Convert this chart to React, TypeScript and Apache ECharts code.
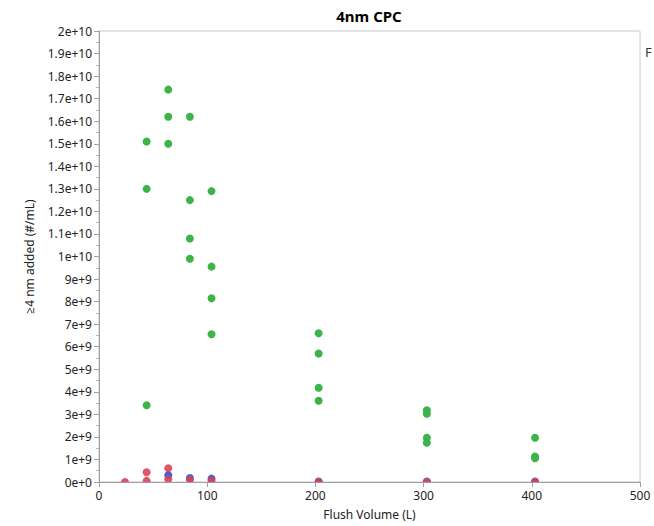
import React, { useEffect, useRef } from "react";
import * as echarts from "echarts";

const titleText = "4nm CPC";
const xAxisName = "Flush Volume (L)";
const yAxisName = "≥4 nm added (#/mL)";

const greenX = [44, 44, 44, 64, 64, 64, 84, 84, 84, 84, 104, 104, 104, 104, 203, 203, 203, 203, 303, 303, 303, 303, 403, 403, 403];
const greenY = [15.1e9, 13.0e9, 3.4e9, 17.4e9, 16.2e9, 15.0e9, 16.2e9, 12.5e9, 10.8e9, 9.9e9, 12.9e9, 9.55e9, 8.15e9, 6.55e9, 6.6e9, 5.7e9, 4.18e9, 3.6e9, 3.18e9, 3.03e9, 1.96e9, 1.74e9, 1.96e9, 1.13e9, 1.05e9];

const blueX = [64, 84, 104, 203, 303, 403];
const blueY = [0.3e9, 0.18e9, 0.15e9, 0.02e9, 0.02e9, 0.02e9];

const redX = [24, 44, 44, 64, 64, 84, 104, 203, 303, 403];
const redY = [0, 0.43e9, 0.05e9, 0.61e9, 0.12e9, 0.1e9, 0.06e9, 0, 0, 0];

const zip = (xs: number[], ys: number[]) => xs.map((x, i) => [x, ys[i]]);

const FONT = "'Noto Sans', 'Open Sans', sans-serif";

export default function App() {
  const ref = useRef<HTMLDivElement>(null);
  useEffect(() => {
    if (!ref.current) return;
    const chart = echarts.init(ref.current, undefined, { renderer: "svg" });
    chart.setOption({
      animation: false,
      backgroundColor: "#ffffff",
      grid: {
        left: 99,
        right: 14,
        top: 31,
        bottom: 44,
        show: true,
        borderColor: "#c8c8c8",
        borderWidth: 1,
        containLabel: false,
      },
      xAxis: {
        type: "value",
        min: 0,
        max: 500,
        interval: 100,
        z: 10,
        name: xAxisName,
        nameLocation: "middle",
        nameGap: 26,
        nameTextStyle: { fontFamily: FONT, fontSize: 12, color: "#222" },
        axisLine: { show: true, lineStyle: { color: "#a0a0a0", width: 1 } },
        axisTick: { show: true, length: 5, lineStyle: { color: "#a0a0a0" } },
        axisLabel: { fontFamily: FONT, fontSize: 12, color: "#222", margin: 7 },
        splitLine: { show: false },
      },
      yAxis: {
        type: "value",
        min: 0,
        max: 2e10,
        interval: 1e9,
        z: 10,
        name: yAxisName,
        nameLocation: "middle",
        nameGap: 64,
        nameTextStyle: { fontFamily: FONT, fontSize: 12, color: "#222" },
        axisLine: { show: true, lineStyle: { color: "#a0a0a0", width: 1 } },
        axisTick: { show: true, length: 5, lineStyle: { color: "#a0a0a0" } },
        minorTick: { show: true, splitNumber: 2, length: 3, lineStyle: { color: "#b4b4b4" } },
        axisLabel: {
          fontFamily: FONT,
          fontSize: 12,
          color: "#222",
          margin: 7,
          formatter: (v: number) => v.toExponential(),
        },
        splitLine: { show: false },
      },
      graphic: [
        {
          type: "text",
          x: 369,
          y: 16,
          style: {
            text: titleText,
            textAlign: "center",
            textVerticalAlign: "middle",
            font: `bold 15px ${FONT}`,
            fill: "#000",
          },
        },
        {
          type: "text",
          x: 645,
          y: 52,
          style: {
            text: "F",
            textAlign: "left",
            textVerticalAlign: "middle",
            font: `13px ${FONT}`,
            fill: "#333",
          },
        },
        {
          type: "rect",
          z: 5,
          shape: { x: 96, y: 482.5, width: 550, height: 12 },
          style: { fill: "#ffffff" },
          silent: true,
        },
      ],
      series: [
        {
          type: "scatter",
          name: "green",
          z: 2,
          symbolSize: 8,
          itemStyle: { color: "#3cb44a", opacity: 1 },
          data: zip(greenX, greenY),
        },
        {
          type: "scatter",
          name: "blue",
          z: 3,
          symbolSize: 8,
          itemStyle: { color: "#3f62d6", opacity: 1 },
          data: zip(blueX, blueY),
        },
        {
          type: "scatter",
          name: "red",
          z: 4,
          symbolSize: 8,
          itemStyle: { color: "#d8425a", opacity: 0.9 },
          data: zip(redX, redY),
        },
      ],
    });
    return () => chart.dispose();
  }, []);
  return (
    <div
      ref={ref}
      style={{ position: "fixed", left: 0, top: 0, width: 654, height: 526 }}
    />
  );
}
